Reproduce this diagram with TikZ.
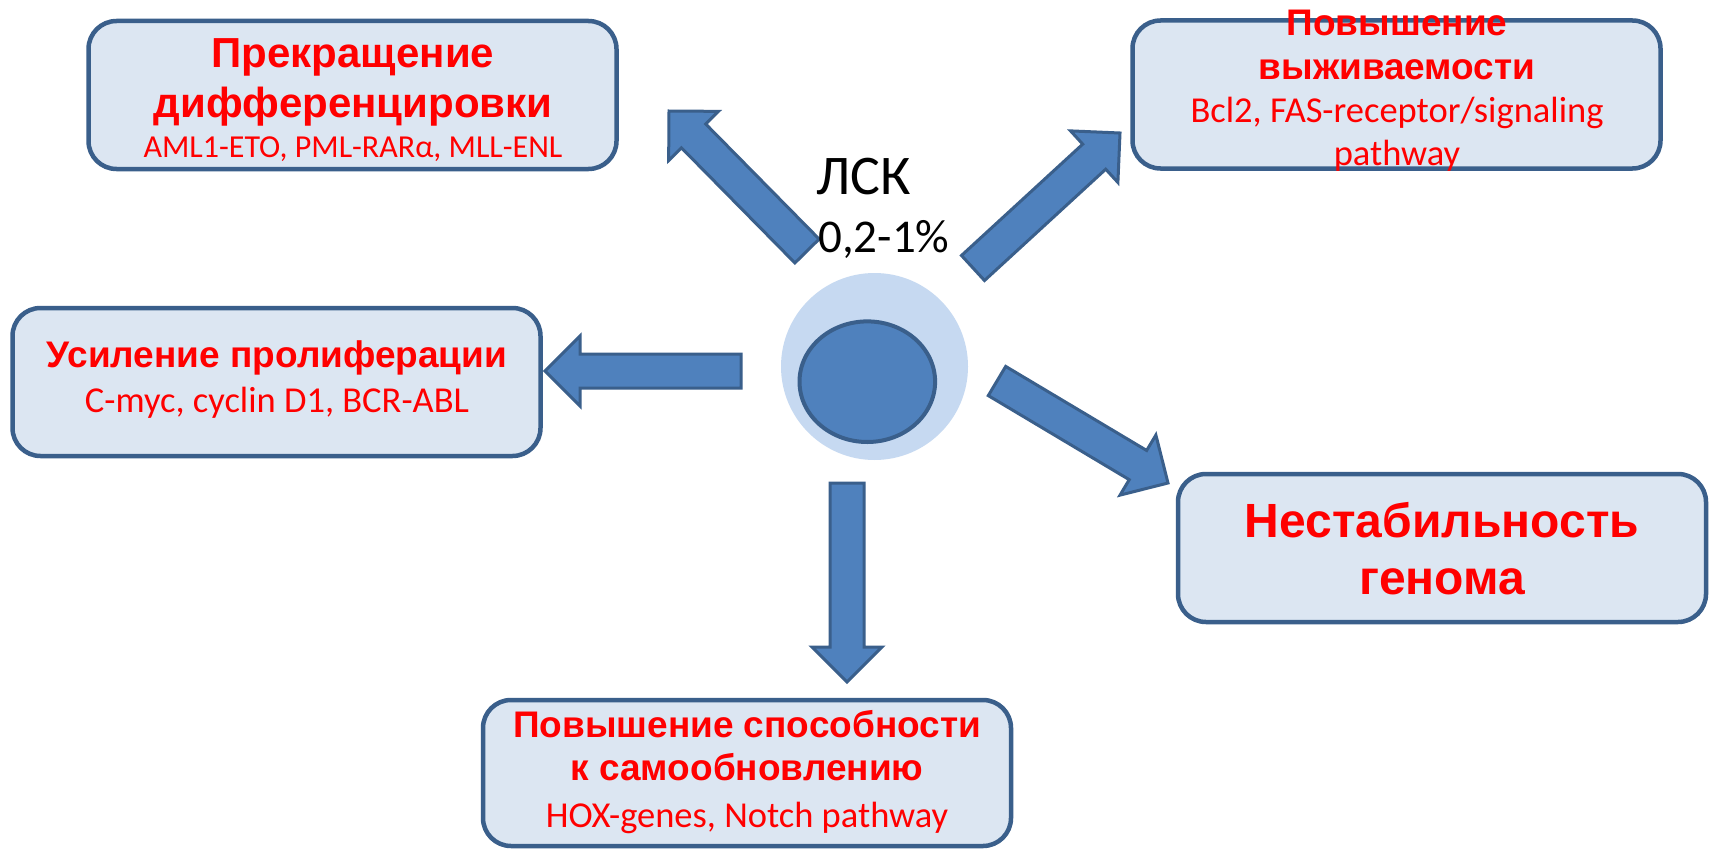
\documentclass[tikz,border=0pt]{standalone}
\usepackage{fontspec}
\setmainfont{Carlito}
\newfontfamily\arialb{Liberation Sans}
\usetikzlibrary{calc}
\definecolor{boxfill}{HTML}{DCE6F2}
\definecolor{boxline}{HTML}{3A5F8B}
\definecolor{arrowfill}{HTML}{4F81BD}
\definecolor{arrowline}{HTML}{3A5F8B}
\definecolor{halo}{HTML}{C6D9F1}
\definecolor{txtred}{HTML}{FF0000}
\tikzset{
  infobox/.style={draw=boxline, fill=boxfill, line width=4.5pt, rounded corners=28pt,
    inner sep=0pt, minimum width=528pt, minimum height=148pt},
  ttl/.style={text=txtred, inner sep=0pt, anchor=base, font=\arialb\bfseries\fontsize{#1}{#1}\selectfont},
  sub/.style={text=txtred, inner sep=0pt, anchor=base, font=\fontsize{#1}{#1}\selectfont},
  arrowst/.style={fill=arrowfill, draw=arrowline, line width=3pt, line join=miter},
  cell/.style={text=black, inner sep=0pt, anchor=base west, font=\fontsize{#1}{#1}\selectfont}
}
\newcommand{\blockarr}[2]{%
  \coordinate (#1n) at ($(#2)!35pt!(#1)$);
  \filldraw[arrowst] ($(#1)!17pt!90:(#2)$) -- ($(#1n)!17pt!90:(#2)$) -- ($(#1n)!35pt!90:(#2)$)
    -- (#2) -- ($(#1n)!35pt!-90:(#2)$) -- ($(#1n)!17pt!-90:(#2)$) -- ($(#1)!17pt!-90:(#2)$) -- cycle;}
\begin{document}
\begin{tikzpicture}[x=1pt,y=-1pt]
\useasboundingbox[fill=white] (0,0) rectangle (1713,851);

% boxes
\node[infobox] (b1) at (352.5,95) {};
\node[infobox] (b2) at (276.5,382) {};
\node[infobox] (b3) at (1396.5,94.5) {};
\node[infobox] (b4) at (1442,548) {};
\node[infobox, minimum height=146pt] (b5) at (747,773) {};

% box texts
\node[ttl=42] (t1a) at (353,67) {Прекращение};
\node[ttl=42] (t1b) at (353,117) {дифференцировки};
\node[sub=32] (s1) at (353,157) {AML1-ETO, PML-RARα, MLL-ENL};

\node[ttl=37] (t2a) at (277,367) {Усиление пролиферации};
\node[sub=36.5] (s2) at (277,412) {C-myc, cyclin D1, BCR-ABL};

\node[ttl=37] (t3a) at (1397,36) {Повышение};
\node[ttl=37] (t3b) at (1397,80) {выживаемости};
\node[sub=36.5] (s3a) at (1397,122) {Bcl2, FAS-receptor/signaling};
\node[sub=36.5] (s3b) at (1397,165) {pathway};

\node[ttl=48] (t4a) at (1442,537) {Нестабильность};
\node[ttl=48] (t4b) at (1442,594) {генома};

\node[ttl=37] (t5a) at (747,737) {Повышение способности};
\node[ttl=37] (t5b) at (747,780) {к самообновлению};
\node[sub=36.5] (s5) at (747,827) {HOX-genes, Notch pathway};

% cell
\fill[halo] (874.5,366.5) circle (93.5);
\draw[fill=arrowfill, draw=arrowline, line width=4pt] (867.3,381.7) ellipse (67.8 and 60.3);
\node[inner sep=0pt] (cell) at (874.5,366.5) {};

% arrows
\coordinate (a1t) at (807,251); \coordinate (a1h) at (669,111);
\coordinate (a2t) at (973,268); \coordinate (a2h) at (1120,133);
\coordinate (a3t) at (741,371); \coordinate (a3h) at (545,371);
\coordinate (a4t) at (997,381); \coordinate (a4h) at (1168,483);
\coordinate (a5t) at (847,483); \coordinate (a5h) at (847,682);
\blockarr{a1t}{a1h}
\blockarr{a2t}{a2h}
\blockarr{a3t}{a3h}
\blockarr{a4t}{a4h}
\blockarr{a5t}{a5h}

% labels
\node[cell=56] (lsk) at (816,194) {ЛСК};
\node[cell=47] (pct) at (818,252) {0,2-1\%};
\end{tikzpicture}
\end{document}
